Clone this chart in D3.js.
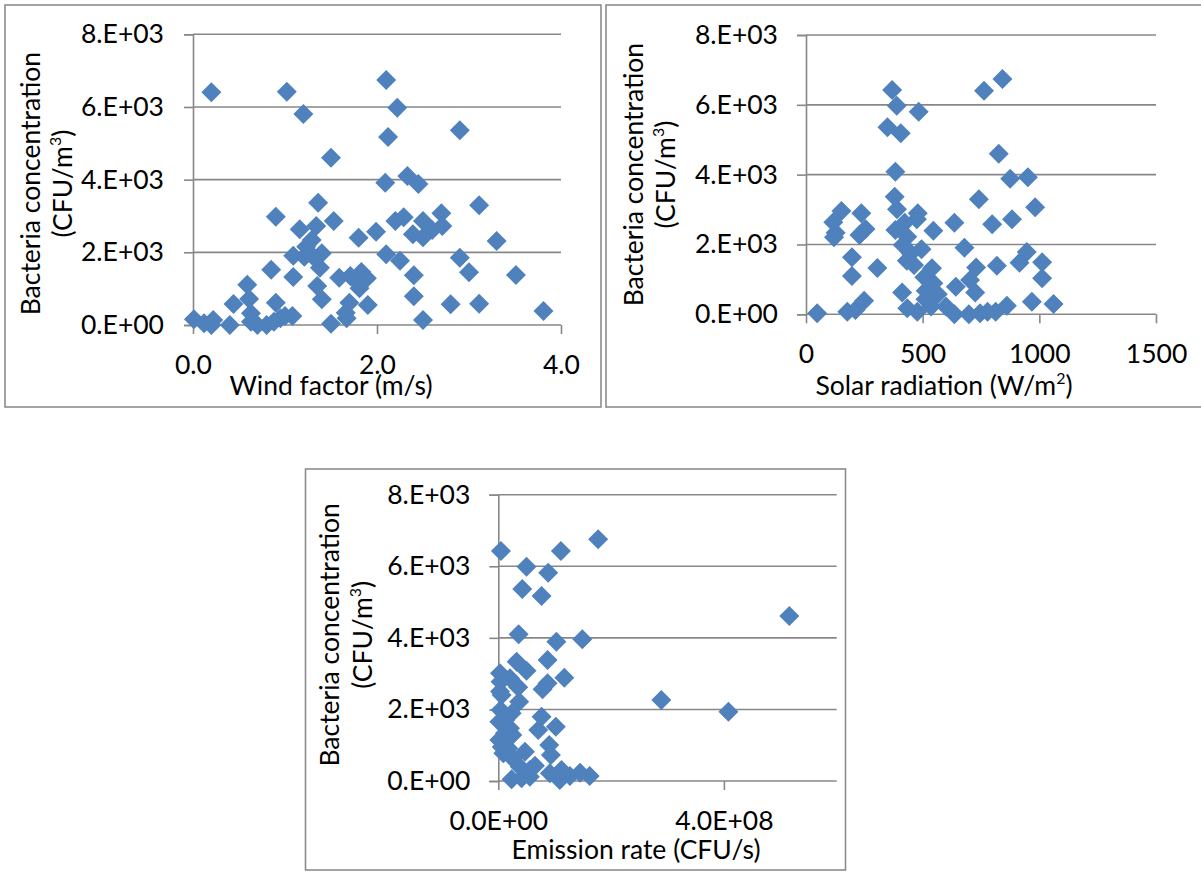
<!DOCTYPE html>
<html>
<head>
<meta charset="utf-8">
<script src="https://cdn.jsdelivr.net/npm/d3@7"></script>
<style>
  html, body { margin: 0; padding: 0; background: #ffffff; }
  svg { display: block; }
  text { font-family: Lato, "Open Sans", "DejaVu Sans", sans-serif; fill: #000; }
</style>
</head>
<body>
<svg id="chart" width="1201" height="872"></svg>
<script>
// ---- Data: bacteria concentration (CFU/m³) against three drivers ----
const concTicks = [0, 2000, 4000, 6000, 8000];
const concTickLabels = ["0.E+00", "2.E+03", "4.E+03", "6.E+03", "8.E+03"];

// Wind factor (m/s)
const windFactor = [0.20, 1.02, 1.20, 2.10, 2.22, 2.12, 2.90, 1.50, 2.09, 2.33, 2.45, 3.11, 1.36, 0.90, 1.53,
  1.16, 1.34, 1.29, 1.23, 1.09, 1.21, 1.40, 1.80, 1.99, 2.20, 2.29, 2.39, 2.50, 2.50, 2.60,
  2.70, 2.71, 3.30, 2.10, 2.25, 2.90, 3.00, 3.51, 2.40, 0.85, 1.09, 1.38, 1.59, 1.71, 1.83,
  1.89, 1.81, 1.35, 1.40, 1.70, 1.90, 2.40, 2.80, 3.11, 3.81, 2.50, 1.50, 1.67, 1.66, 0.59,
  0.61, 0.44, 0.90, 1.08, 0.95, 0.63, 0.63, 0.40, 0.80, 0.01, 0.12, 0.22, 0.20, 0.88, 0.70,
  1.00, 1.30, 1.80];
const windConc = [6404, 6422, 5807, 6743, 5981, 5174, 5358, 4605, 3917, 4101, 3881, 3293, 3367, 2982, 2862,
  2633, 2725, 2339, 2156, 1908, 1881, 1972, 2404, 2569, 2862, 2963, 2495, 2862, 2413, 2615,
  3073, 2725, 2312, 1945, 1771, 1853, 1450, 1376, 1367, 1523, 1321, 1578, 1303, 1349, 1459,
  1284, 1009, 1073, 706, 615, 550, 789, 569, 587, 385, 138, 37, 183, 339, 1110,
  716, 578, 615, 248, 183, 321, 92, 0, 0, 156, 46, 138, 0, 92, 0,
  250, 1900, 1150];
const windTicks = [0, 2, 4];
const windTickLabels = ["0.0", "2.0", "4.0"];

// Solar radiation (W/m²)
const solarRad = [369, 389, 483, 349, 406, 763, 842, 826, 383, 875, 951, 741, 380, 982, 883,
  798, 636, 152, 117, 127, 120, 237, 255, 229, 390, 479, 475, 423, 383, 546,
  434, 415, 495, 679, 449, 432, 197, 197, 306, 540, 507, 729, 818, 915, 946,
  1012, 1012, 412, 513, 565, 642, 703, 725, 968, 1061, 48, 177, 212, 249, 434,
  477, 536, 600, 636, 698, 746, 778, 813, 861, 512, 546, 463];
const solarConc = [6425, 5976, 5805, 5356, 5184, 6406, 6740, 4602, 4086, 3886, 3924, 3294, 3370, 3065, 2721,
  2578, 2625, 2960, 2635, 2339, 2205, 2893, 2444, 2272, 3007, 2893, 2721, 2625, 2415, 2396,
  2224, 1986, 1862, 1909, 1747, 1537, 1632, 1098, 1327, 1317, 1060, 1337, 1394, 1480, 1785,
  1489, 1031, 621, 678, 573, 792, 983, 621, 363, 296, 29, 76, 124, 391, 172,
  76, 220, 220, 0, 0, 29, 76, 76, 248, 430, 888, 1413];
const solarTicks = [0, 500, 1000, 1500];
const solarTickLabels = ["0", "500", "1000", "1500"];

// Emission rate (CFU/s)
const emissionRate = [4.7e6, 1.77e8, 1.11e8, 5.0e7, 8.85e7, 4.25e7, 7.67e7, 5.16e8, 3.6e7, 1.03e8, 1.49e8, 2.89e8, 4.08e8, 3.25e7, 5.0e7,
  8.73e7, 1.17e8, 8.73e7, 7.85e7, 3e6, 4e6, 2.07e7, 3.54e7, 5.9e6, 3.7e7, 4.1e6, 2.36e7, 1.8e6, 2.07e7, 7.67e7,
  1.02e8, 7.08e7, 1.8e6, 2.48e7, 9.03e7, 8.9e6, 2.54e7, 4.72e7, 9.32e7, 6.5e7, 9.15e7, 1.12e8, 1.27e8, 1.45e8, 1.62e8,
  2.36e7, 4.13e7, 5.6e7, 1.09e8, 3.8e7, 5.6e7, 1.77e7, 1.18e7, 3.0e6, 1.2e7, 6.0e6];
const emissionConc = [6426, 6752, 6426, 5988, 5821, 5364, 5169, 4610, 4098, 3893, 3958, 2263, 1937, 3334, 3083,
  3381, 2887, 2729, 2561, 3008, 2775, 2868, 2617, 2403, 2216, 1984, 1891, 1658, 1471, 1797,
  1518, 1425, 1145, 1285, 1006, 773, 633, 820, 726, 428, 214, 307, 140, 233, 140,
  47, 75, 121, 28, 400, 307, 913, 1332, 2500, 1700, 950];
const emissionTicks = [0, 4e8];
const emissionTickLabels = ["0.0E+00", "4.0E+08"];

const concTitle = "Bacteria concentration";

// ---- Drawing ----
const svg = d3.select("#chart");
const gridColor = "#878787";
const markerColor = "#4F81BD";
const fontSize = 26.5;
const supSize = fontSize * 0.6;
const supShift = 11;
const diamond = d3.symbol().type(d3.symbolSquare).size(200);

function drawPanel(p) {
  // frame around the chart area
  svg.append("rect")
    .attr("x", p.frame[0]).attr("y", p.frame[1])
    .attr("width", p.frame[2]).attr("height", p.frame[3])
    .attr("fill", "none").attr("stroke", "#8c8c8c").attr("stroke-width", 1.6);

  const x = d3.scaleLinear().domain(p.xDomain).range([p.left, p.right]);
  const y = d3.scaleLinear().domain([0, 8000]).range([p.bottom, p.top]);
  const g = svg.append("g");

  // horizontal gridlines
  g.append("g").selectAll("line").data(concTicks.slice(1)).join("line")
    .attr("x1", p.left).attr("x2", p.right)
    .attr("y1", d => y(d)).attr("y2", d => y(d))
    .attr("stroke", gridColor).attr("stroke-width", 1.6);

  // y axis
  const yAxis = g.append("g").attr("transform", `translate(${p.left},0)`)
    .call(d3.axisLeft(y).tickValues(concTicks)
      .tickFormat((d, i) => concTickLabels[i]).tickSize(9).tickPadding(p.yPad));
  // x axis
  const xAxis = g.append("g").attr("transform", `translate(0,${p.bottom})`)
    .call(d3.axisBottom(x).tickValues(p.xTicks)
      .tickFormat((d, i) => p.xTickLabels[i]).tickSize(9).tickPadding(p.xPad));
  [yAxis, xAxis].forEach(a => {
    a.attr("font-size", fontSize).attr("font-family", "Lato, 'Open Sans', sans-serif");
    a.select(".domain").attr("stroke", gridColor).attr("stroke-width", 1.6);
    a.selectAll(".tick line").attr("stroke", gridColor).attr("stroke-width", 1.6);
    a.selectAll(".tick text").attr("fill", "#000");
  });
  // x axis line spans the full plot width
  xAxis.select(".domain").attr("d", `M${p.left},0H${p.right}`);

  // diamond markers
  g.append("g").selectAll("path").data(p.xs.map((v, i) => [v, p.ys[i]])).join("path")
    .attr("d", diamond)
    .attr("transform", d => `translate(${x(d[0])},${y(d[1])}) rotate(45)`)
    .attr("fill", markerColor);

  // x axis title
  const xt = svg.append("text").attr("x", p.xTitle[0]).attr("y", p.xTitle[1])
    .attr("text-anchor", "middle").attr("font-size", fontSize);
  let raised = false;
  p.xTitleParts.forEach(([s, sup]) => {
    const t = xt.append("tspan").text(s);
    if (sup) { t.attr("font-size", supSize).attr("dy", -supShift); raised = true; }
    else if (raised) { t.attr("dy", supShift); raised = false; }
  });

  // y axis title (two lines, rotated)
  const cy = (p.top + p.bottom) / 2 + p.yTitleShift;
  svg.append("text").attr("transform", `translate(${p.yTitleX[0]},${cy}) rotate(-90)`)
    .attr("text-anchor", "middle").attr("font-size", fontSize).text(concTitle);
  const l2 = svg.append("text").attr("transform", `translate(${p.yTitleX[1]},${cy}) rotate(-90)`)
    .attr("text-anchor", "middle").attr("font-size", fontSize);
  l2.append("tspan").text("(CFU/m");
  l2.append("tspan").text("3").attr("font-size", supSize).attr("dy", -supShift);
  l2.append("tspan").text(")").attr("dy", supShift);
}

drawPanel({
  frame: [5, 5, 596, 402],
  left: 193, right: 561, top: 34.3, bottom: 325,
  xDomain: [0, 4], xTicks: windTicks, xTickLabels: windTickLabels,
  xs: windFactor, ys: windConc,
  yPad: 20, xPad: 21,
  xTitle: [331, 395], xTitleParts: [["Wind factor (m/s)", false]],
  yTitleX: [40, 72], yTitleShift: 4
});

drawPanel({
  frame: [606, 5, 610, 402],
  left: 806, right: 1156, top: 35, bottom: 314.3,
  xDomain: [0, 1500], xTicks: solarTicks, xTickLabels: solarTickLabels,
  xs: solarRad, ys: solarConc,
  yPad: 19, xPad: 21,
  xTitle: [944, 395], xTitleParts: [["Solar radiation (W/m", false], ["2", true], [")", false]],
  yTitleX: [643, 675], yTitleShift: 0
});

drawPanel({
  frame: [305.5, 469, 540, 401],
  left: 498.3, right: 836.7, top: 494.7, bottom: 781,
  xDomain: [0, 6e8], xTicks: emissionTicks, xTickLabels: emissionTickLabels,
  xs: emissionRate, ys: emissionConc,
  yPad: 19, xPad: 21,
  xTitle: [636, 859], xTitleParts: [["Emission rate (CFU/s)", false]],
  yTitleX: [339, 372], yTitleShift: -3
});
</script>
</body>
</html>
